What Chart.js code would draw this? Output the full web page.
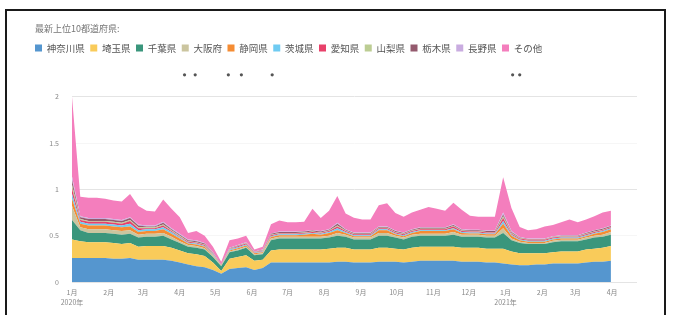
<!DOCTYPE html>
<html>
<head>
<meta charset="utf-8">
<script src="https://cdn.jsdelivr.net/npm/chart.js@4.4.1/dist/chart.umd.min.js"></script>
<style>
  body { margin: 0; background: #fff; width: 674px; height: 315px; overflow: hidden; position: relative; }
  #frame { position: absolute; left: 5px; top: 9px; width: 657px; height: 330px; border: 2px solid #1a1a1a; }
  #myChart { position: absolute; left: 28px; top: 16px; }
</style>
</head>
<body>
<div id="frame"></div>
<canvas id="myChart" width="630" height="299"></canvas>
<script>
// 週ごとの日付 (2020-01-01 から)
const semanas = [
  '2020-01-01','2020-01-08','2020-01-15','2020-01-22','2020-01-29','2020-02-05','2020-02-12','2020-02-19','2020-02-26','2020-03-04',
  '2020-03-11','2020-03-18','2020-03-25','2020-04-01','2020-04-08','2020-04-15','2020-04-22','2020-04-29','2020-05-06','2020-05-13',
  '2020-05-20','2020-05-27','2020-06-03','2020-06-10','2020-06-17','2020-06-24','2020-07-01','2020-07-08','2020-07-15','2020-07-22',
  '2020-07-29','2020-08-05','2020-08-12','2020-08-19','2020-08-26','2020-09-02','2020-09-09','2020-09-16','2020-09-23','2020-09-30',
  '2020-10-07','2020-10-14','2020-10-21','2020-10-28','2020-11-04','2020-11-11','2020-11-18','2020-11-25','2020-12-02','2020-12-09',
  '2020-12-16','2020-12-23','2020-12-30','2021-01-06','2021-01-13','2021-01-20','2021-01-27','2021-02-03','2021-02-10','2021-02-17',
  '2021-02-24','2021-03-03','2021-03-10','2021-03-17','2021-03-24','2021-03-31'
];

// 月の目盛り
const mesesTicks = ['2020-01-01','2020-02-01','2020-03-01','2020-04-01','2020-05-01','2020-06-01','2020-07-01','2020-08-01',
  '2020-09-01','2020-10-01','2020-11-01','2020-12-01','2021-01-01','2021-02-01','2021-03-01','2021-04-01'];
const mesesLabels = ['1月','2月','3月','4月','5月','6月','7月','8月','9月','10月','11月','12月','1月','2月','3月','4月'];
const anioLabels = {0: '2020年', 12: '2021年'};

// 上の * 印
const marcas = ['2020-04-05','2020-04-14','2020-05-12','2020-05-23','2020-06-18','2021-01-07','2021-01-13'];

const yTicks = [0, 0.5, 1, 1.5, 2];

const nombres = ['神奈川県','埼玉県','千葉県','大阪府','静岡県','茨城県','愛知県','山梨県','栃木県','長野県','その他'];
const colores = ['#5596cf','#f9cb5a','#3a967c','#cbc59f','#f58c33','#6fcbf2','#e8416a','#bccd93','#945a6e','#c9ace0','#f47ebd'];

const kanagawa = [
  .26,.26,.26,.26,.26,.25,.25,.26,.24,.24, .24,.24,.23,.21,.19,.17,.16,.13,.09,.14,
  .15,.16,.13,.15,.21,.21,.21,.21,.21,.21, .21,.21,.22,.22,.21,.21,.21,.22,.22,.22,
  .21,.22,.23,.23,.23,.23,.23,.22,.22,.22, .21,.21,.20,.19,.18,.18,.19,.19,.20,.20,
  .20,.20,.21,.22,.22,.23
];
const saitama = [
  .20,.18,.17,.17,.17,.17,.16,.16,.14,.15, .15,.15,.14,.13,.12,.13,.12,.08,.03,.11,
  .12,.13,.10,.09,.13,.14,.14,.14,.14,.14, .14,.15,.15,.15,.14,.14,.14,.15,.15,.14,
  .14,.15,.15,.15,.15,.15,.15,.15,.15,.15, .15,.15,.16,.14,.13,.13,.12,.12,.12,.13,
  .13,.13,.14,.14,.15,.16
];
const chiba = [
  .21,.12,.10,.10,.10,.10,.10,.10,.10,.10, .10,.11,.09,.08,.07,.07,.07,.06,.05,.07,
  .07,.08,.06,.06,.11,.12,.12,.12,.12,.12, .12,.12,.13,.12,.11,.11,.11,.13,.13,.12,
  .11,.12,.12,.12,.12,.12,.13,.12,.12,.12, .12,.12,.17,.12,.11,.10,.10,.10,.11,.11,
  .11,.11,.11,.12,.12,.12
];
const osaka = [
  .15,.03,.04,.04,.04,.04,.04,.04,.03,.03, .03,.03,.03,.02,.02,.02,.015,.01,.005,.01,
  .01,.01,.01,.01,.02,.02,.02,.02,.02,.02, .02,.02,.03,.02,.02,.02,.02,.03,.03,.02,
  .02,.02,.02,.02,.02,.02,.03,.02,.02,.02, .02,.02,.05,.02,.015,.01,.01,.01,.015,.015,
  .015,.015,.02,.02,.02,.03
];
const shizuoka = [
  .08,.04,.04,.04,.04,.04,.04,.04,.03,.03, .03,.04,.03,.03,.015,.015,.015,.01,.005,.01,
  .015,.015,.01,.01,.015,.015,.015,.015,.02,.03, .02,.03,.03,.02,.015,.015,.015,.03,.03,.015,
  .015,.02,.03,.03,.03,.03,.03,.02,.015,.015, .015,.015,.05,.03,.015,.015,.015,.015,.015,.015,
  .015,.015,.015,.02,.03,.03
];
const ibaraki = [
  .05,.02,.02,.02,.02,.02,.02,.03,.02,.02, .02,.02,.02,.01,.01,.01,.01,.01,.003,.01,
  .01,.01,.005,.01,.01,.01,.01,.01,.01,.01, .01,.01,.02,.01,.01,.01,.01,.01,.01,.01,
  .01,.01,.01,.01,.01,.01,.01,.01,.01,.01, .01,.01,.03,.01,.01,.01,.01,.01,.01,.01,
  .01,.01,.01,.01,.01,.01
];
const aichi = [
  .06,.02,.02,.02,.02,.02,.02,.03,.02,.01, .01,.02,.01,.01,.01,.01,.01,.005,.002,.005,
  .01,.01,.005,.005,.01,.01,.01,.01,.01,.01, .01,.01,.02,.01,.01,.01,.01,.01,.01,.01,
  .01,.01,.01,.01,.01,.01,.02,.01,.01,.01, .01,.01,.03,.01,.01,.01,.01,.01,.01,.01,
  .01,.01,.01,.01,.01,.01
];
const yamanashi = [
  .04,.01,.01,.01,.01,.01,.01,.01,.01,.01, .01,.01,.01,.01,.005,.005,.005,.005,.002,.005,
  .005,.005,.003,.005,.005,.005,.005,.005,.005,.005, .005,.005,.01,.005,.005,.005,.005,.005,.005,.005,
  .005,.005,.005,.005,.005,.005,.005,.005,.005,.005, .005,.005,.02,.01,.005,.005,.005,.005,.005,.005,
  .005,.005,.005,.005,.005,.005
];
const tochigi = [
  .05,.02,.02,.02,.02,.02,.02,.02,.02,.01, .01,.02,.01,.01,.01,.01,.01,.005,.002,.005,
  .005,.005,.004,.005,.01,.01,.01,.01,.01,.01, .01,.01,.02,.01,.01,.01,.01,.01,.01,.01,
  .01,.01,.01,.01,.01,.01,.01,.01,.01,.01, .01,.01,.02,.01,.005,.005,.005,.005,.005,.005,
  .005,.005,.01,.01,.01,.01
];
const nagano = [
  .04,.01,.01,.01,.01,.01,.01,.01,.01,.01, .01,.01,.01,.01,.01,.01,.005,.005,.001,.005,
  .005,.005,.003,.005,.005,.005,.005,.005,.005,.005, .005,.005,.01,.005,.005,.005,.005,.005,.005,.005,
  .005,.005,.005,.005,.005,.005,.01,.005,.005,.005, .005,.005,.02,.01,.005,.005,.005,.005,.005,.005,
  .005,.005,.005,.005,.005,.005
];
const sonota = [
  .86,.21,.22,.22,.21,.20,.20,.25,.20,.16, .15,.24,.21,.18,.07,.10,.08,.06,.03,.08,
  .07,.07,.02,.03,.10,.12,.10,.10,.10,.23, .14,.20,.29,.17,.16,.14,.14,.23,.25,.19,
  .17,.18,.19,.22,.20,.18,.23,.21,.15,.14, .15,.15,.38,.25,.11,.09,.10,.13,.12,.14,
  .17,.14,.14,.15,.17,.16
];

const series = [kanagawa, saitama, chiba, osaka, shizuoka, ibaraki, aichi, yamanashi, tochigi, nagano, sonota];

// fecha -> días desde 2020-01-01
const base = Date.parse('2020-01-01');
const dia = d => (Date.parse(d) - base) / 86400000;
const diasSemana = semanas.map(dia);
const diasTicks = mesesTicks.map(dia);

const datasets = series.map((vals, k) => ({
  label: nombres[k],
  data: vals.map((v, i) => ({ x: diasSemana[i], y: v })),
  backgroundColor: colores[k],
  borderColor: colores[k],
  borderWidth: 0,
  pointRadius: 0,
  tension: 0,
  fill: k === 0 ? 'origin' : '-1'
}));

const legendPad = 5.5;

// espacio extra debajo de la leyenda y alinearla con el título
const legendMargin = {
  id: 'legendMargin',
  beforeInit(chart) {
    const fit = chart.legend.fit;
    chart.legend.fit = function () {
      fit.bind(chart.legend)();
      this.height += 34;
    };
  },
  afterLayout(chart) {
    chart.legend.left -= legendPad;
    chart.legend.right -= legendPad;
  }
};

// los * encima del gráfico
const marcasPlugin = {
  id: 'marcas',
  afterDraw(chart) {
    const c = chart.ctx;
    const xs = chart.scales.x;
    c.save();
    c.fillStyle = '#555';
    marcas.forEach(m => {
      const px = xs.getPixelForValue(dia(m));
      c.beginPath();
      c.arc(px, chart.chartArea.top - 22, 1.6, 0, Math.PI * 2);
      c.fill();
    });
    c.restore();
  }
};

const ctx = document.getElementById('myChart').getContext('2d');
const myChart = new Chart(ctx, {
  type: 'line',
  data: { datasets: datasets },
  plugins: [legendMargin, marcasPlugin],
  options: {
    responsive: false,
    animation: false,
    layout: { padding: { left: 7, right: 21, top: 0, bottom: 6 } },
    interaction: { mode: 'nearest', intersect: false },
    plugins: {
      title: {
        display: true,
        text: '最新上位10都道府県:',
        align: 'start',
        color: '#777',
        font: { family: 'Noto Sans CJK JP', size: 9, weight: 'normal' },
        padding: { top: 7, bottom: 4 }
      },
      legend: {
        position: 'top',
        align: 'start',
        labels: {
          boxWidth: 7,
          boxHeight: 7,
          padding: legendPad,
          color: '#555',
          font: { family: 'Noto Sans CJK JP', size: 9.5 }
        }
      },
      tooltip: { enabled: false }
    },
    scales: {
      x: {
        type: 'linear',
        min: 0,
        max: 477,
        afterBuildTicks: axis => { axis.ticks = diasTicks.map(v => ({ value: v })); },
        afterFit: axis => { axis.height = 27; },
        grid: { display: false, drawTicks: false },
        border: { display: false },
        ticks: {
          autoSkip: false,
          maxRotation: 0,
          padding: 5,
          color: '#888',
          font: { family: 'Noto Sans CJK JP', size: 7, lineHeight: 1.5 },
          callback: (v, i) => anioLabels[i] ? [mesesLabels[i], anioLabels[i]] : mesesLabels[i]
        }
      },
      y: {
        stacked: true,
        min: 0,
        max: 2,
        afterBuildTicks: axis => { axis.ticks = yTicks.map(v => ({ value: v })); },
        afterFit: axis => { axis.width = 37; },
        border: { display: false },
        grid: {
          drawTicks: false,
          color: c => (c.tick && Number.isInteger(c.tick.value)) ? '#e4e4e4' : '#f6f6f6'
        },
        ticks: {
          padding: 13,
          color: '#888',
          font: { family: 'Noto Sans CJK JP', size: 7 },
          callback: v => String(v)
        }
      }
    }
  }
});
</script>
</body>
</html>
